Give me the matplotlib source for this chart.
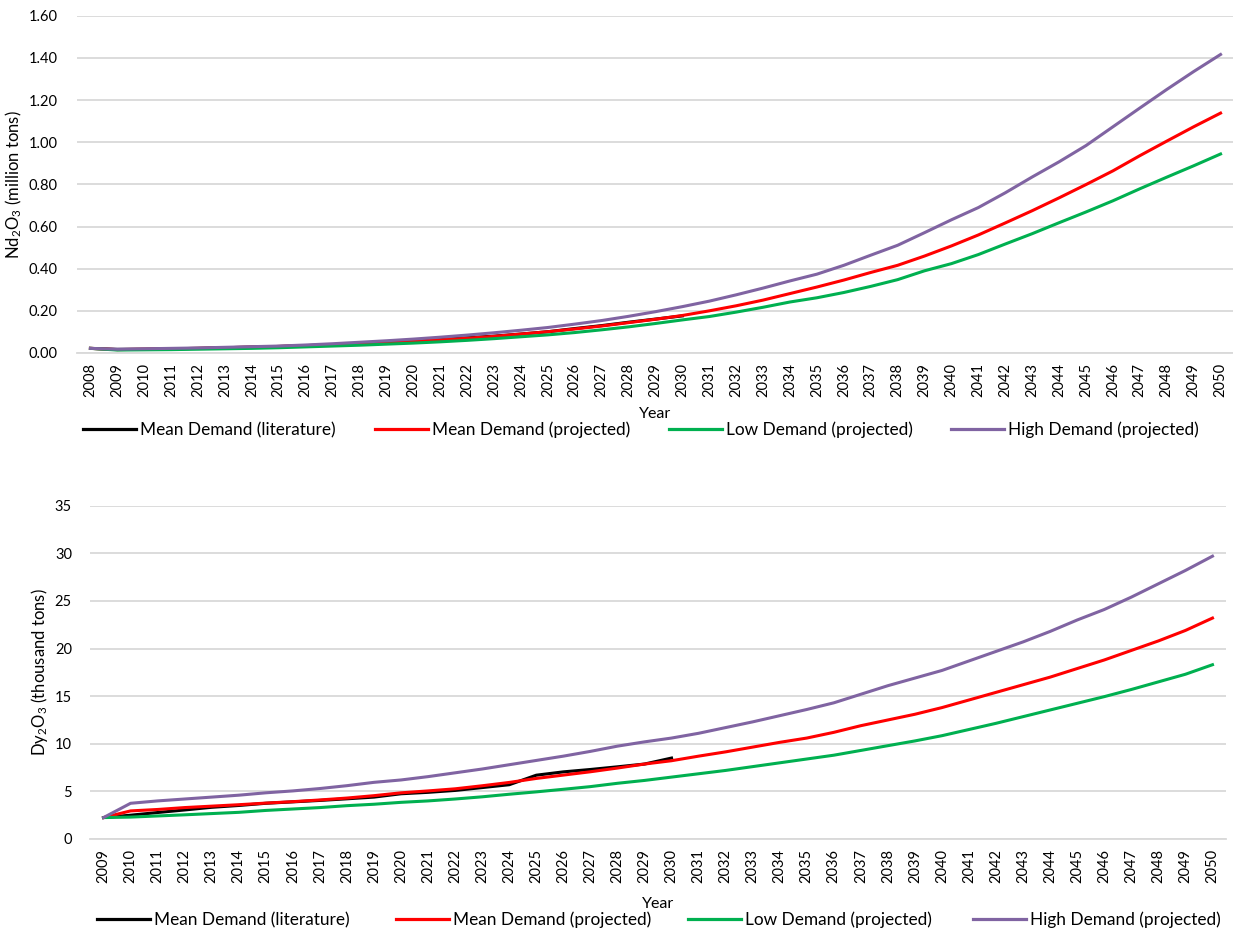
import matplotlib
matplotlib.use("Agg")
import matplotlib.pyplot as plt
from matplotlib.lines import Line2D

plt.rcParams['font.family'] = ['Lato', 'DejaVu Sans']
plt.rcParams['mathtext.fontset'] = 'custom'
plt.rcParams['mathtext.rm'] = 'Lato'
plt.rcParams['mathtext.it'] = 'Lato:italic'
plt.rcParams['mathtext.bf'] = 'Lato:bold'

# ---- Nd2O3 demand (million tons) ----
nd_years = list(range(2008, 2051))
nd_literature = [0.022, 0.017, 0.018, 0.020, 0.022, 0.025, 0.028, 0.031, 0.035, 0.039,
                 0.043, 0.048, 0.055, 0.063, 0.072, 0.080, 0.090, 0.101, 0.116, 0.130,
                 0.146, 0.161, 0.176]
nd_mean = [0.022, 0.016, 0.018, 0.020, 0.022, 0.025, 0.028, 0.031, 0.035, 0.039,
           0.044, 0.049, 0.055, 0.062, 0.070, 0.079, 0.090, 0.101, 0.114, 0.128,
           0.144, 0.160, 0.178, 0.200, 0.224, 0.251, 0.282, 0.313, 0.346, 0.382,
           0.416, 0.460, 0.508, 0.560, 0.617, 0.675, 0.736, 0.799, 0.864, 0.936,
           1.005, 1.073, 1.138]
nd_low = [0.022, 0.014, 0.015, 0.016, 0.018, 0.020, 0.022, 0.025, 0.029, 0.033,
          0.037, 0.042, 0.047, 0.053, 0.060, 0.068, 0.077, 0.086, 0.097, 0.110,
          0.124, 0.140, 0.157, 0.173, 0.194, 0.217, 0.242, 0.262, 0.287, 0.316,
          0.348, 0.390, 0.424, 0.467, 0.517, 0.566, 0.618, 0.669, 0.722, 0.779,
          0.834, 0.888, 0.944]
nd_high = [0.022, 0.018, 0.020, 0.022, 0.024, 0.027, 0.030, 0.033, 0.038, 0.044,
           0.051, 0.058, 0.066, 0.075, 0.085, 0.096, 0.108, 0.121, 0.137, 0.154,
           0.174, 0.196, 0.220, 0.246, 0.276, 0.308, 0.342, 0.374, 0.416, 0.464,
           0.511, 0.571, 0.632, 0.690, 0.760, 0.835, 0.907, 0.984, 1.073, 1.162,
           1.250, 1.335, 1.416]

# ---- Dy2O3 demand (thousand tons) ----
dy_years = list(range(2009, 2051))
dy_literature = [2.25, 2.50, 2.78, 3.05, 3.33, 3.52, 3.75, 3.90, 4.05, 4.22,
                 4.40, 4.75, 4.90, 5.10, 5.40, 5.70, 6.70, 7.05, 7.30, 7.58,
                 7.87, 8.50]
dy_mean = [2.25, 2.95, 3.10, 3.30, 3.45, 3.60, 3.77, 3.92, 4.10, 4.30,
           4.55, 4.85, 5.05, 5.27, 5.59, 5.94, 6.36, 6.71, 7.06, 7.45,
           7.87, 8.22, 8.70, 9.15, 9.65, 10.15, 10.60, 11.20, 11.90, 12.50,
           13.10, 13.80, 14.60, 15.40, 16.20, 17.00, 17.90, 18.80, 19.80, 20.80,
           21.90, 23.20]
dy_low = [2.25, 2.30, 2.42, 2.54, 2.67, 2.80, 3.00, 3.15, 3.30, 3.50,
          3.65, 3.85, 4.00, 4.20, 4.43, 4.70, 4.95, 5.22, 5.50, 5.85,
          6.15, 6.50, 6.85, 7.20, 7.60, 8.00, 8.40, 8.80, 9.30, 9.80,
          10.30, 10.85, 11.50, 12.15, 12.85, 13.55, 14.25, 14.95, 15.70, 16.50,
          17.30, 18.30]
dy_high = [2.25, 3.75, 4.00, 4.20, 4.40, 4.60, 4.85, 5.05, 5.30, 5.60,
           5.95, 6.20, 6.55, 6.95, 7.35, 7.80, 8.25, 8.70, 9.20, 9.75,
           10.20, 10.60, 11.10, 11.70, 12.30, 12.95, 13.60, 14.30, 15.20, 16.10,
           16.90, 17.70, 18.70, 19.70, 20.70, 21.80, 23.00, 24.10, 25.40, 26.80,
           28.20, 29.70]

series_names = ["Mean Demand (literature)", "Mean Demand (projected)",
                "Low Demand (projected)", "High Demand (projected)"]
series_colors = ["#000000", "#FF0000", "#00B050", "#8064A2"]

GRID = "#D9D9D9"
W, H = 1233, 933

fig = plt.figure(figsize=(W / 100, H / 100), dpi=100)
fig.patch.set_facecolor("white")


def px_axes(left, top, right, bottom):
    return fig.add_axes([left / W, 1 - bottom / H, (right - left) / W, (bottom - top) / H])


def style_axes(ax, years, ymax, ystep, fmt, ylabel, ypad, xlabelpad):
    n = len(years)
    ax.set_xlim(-0.5, n - 0.5)
    ax.set_ylim(0, ymax)
    ax.set_xticks(range(n))
    ax.set_xticklabels([str(y) for y in years], rotation=90, fontsize=10.5, color="#000000")
    ticks = [i * ystep for i in range(int(round(ymax / ystep)) + 1)]
    ax.set_yticks(ticks)
    ax.set_yticklabels([fmt.format(t) for t in ticks], fontsize=10.5, color="#000000")
    ax.tick_params(axis="both", length=0)
    ax.tick_params(axis="y", pad=ypad)
    ax.tick_params(axis="x", pad=7)
    for s in ["top", "right", "left"]:
        ax.spines[s].set_visible(False)
    ax.spines["bottom"].set_color(GRID)
    ax.spines["bottom"].set_linewidth(1.3)
    ax.grid(axis="y", color=GRID, linewidth=1.3)
    ax.set_axisbelow(True)
    ax.set_xlabel("Year", fontsize=11.5, labelpad=xlabelpad)
    ax.set_ylabel(ylabel, fontsize=12)


def add_legend(xs, yc):
    for name, color, x in zip(series_names, series_colors, xs):
        h = Line2D([], [], color=color, linewidth=2.3)
        fig.legend([h], [name], loc="center left", bbox_to_anchor=(x / W, 1 - yc / H),
                   frameon=False, fontsize=12.4, handlelength=3.05, handletextpad=0.28,
                   borderpad=0, borderaxespad=0)


# Top panel: Nd2O3
ax1 = px_axes(77, 15.7, 1234, 353)
x1 = list(range(len(nd_years)))
ax1.plot(x1[:len(nd_literature)], nd_literature, color=series_colors[0], lw=2.2)
ax1.plot(x1, nd_mean, color=series_colors[1], lw=2.2)
ax1.plot(x1, nd_low, color=series_colors[2], lw=2.2)
ax1.plot(x1, nd_high, color=series_colors[3], lw=2.2)
style_axes(ax1, nd_years, 1.6, 0.2, "{:.2f}", r"Nd$_2$O$_3$ (million tons)", 14, 7)
ax1.yaxis.set_label_coords(-0.046, 0.5)
add_legend([83, 375, 669, 951], 430)

# Bottom panel: Dy2O3
ax2 = px_axes(90, 505.7, 1226, 839)
x2 = list(range(len(dy_years)))
ax2.plot(x2[:len(dy_literature)], dy_literature, color=series_colors[0], lw=2.2)
ax2.plot(x2, dy_mean, color=series_colors[1], lw=2.2)
ax2.plot(x2, dy_low, color=series_colors[2], lw=2.2)
ax2.plot(x2, dy_high, color=series_colors[3], lw=2.2)
style_axes(ax2, dy_years, 35, 5, "{:d}", r"Dy$_2$O$_3$ (thousand tons)", 13, 10)
ax2.yaxis.set_label_coords(-0.035, 0.5)
add_legend([97, 396, 688, 973], 920)

fig.savefig("out.png", dpi=100, facecolor="white")
